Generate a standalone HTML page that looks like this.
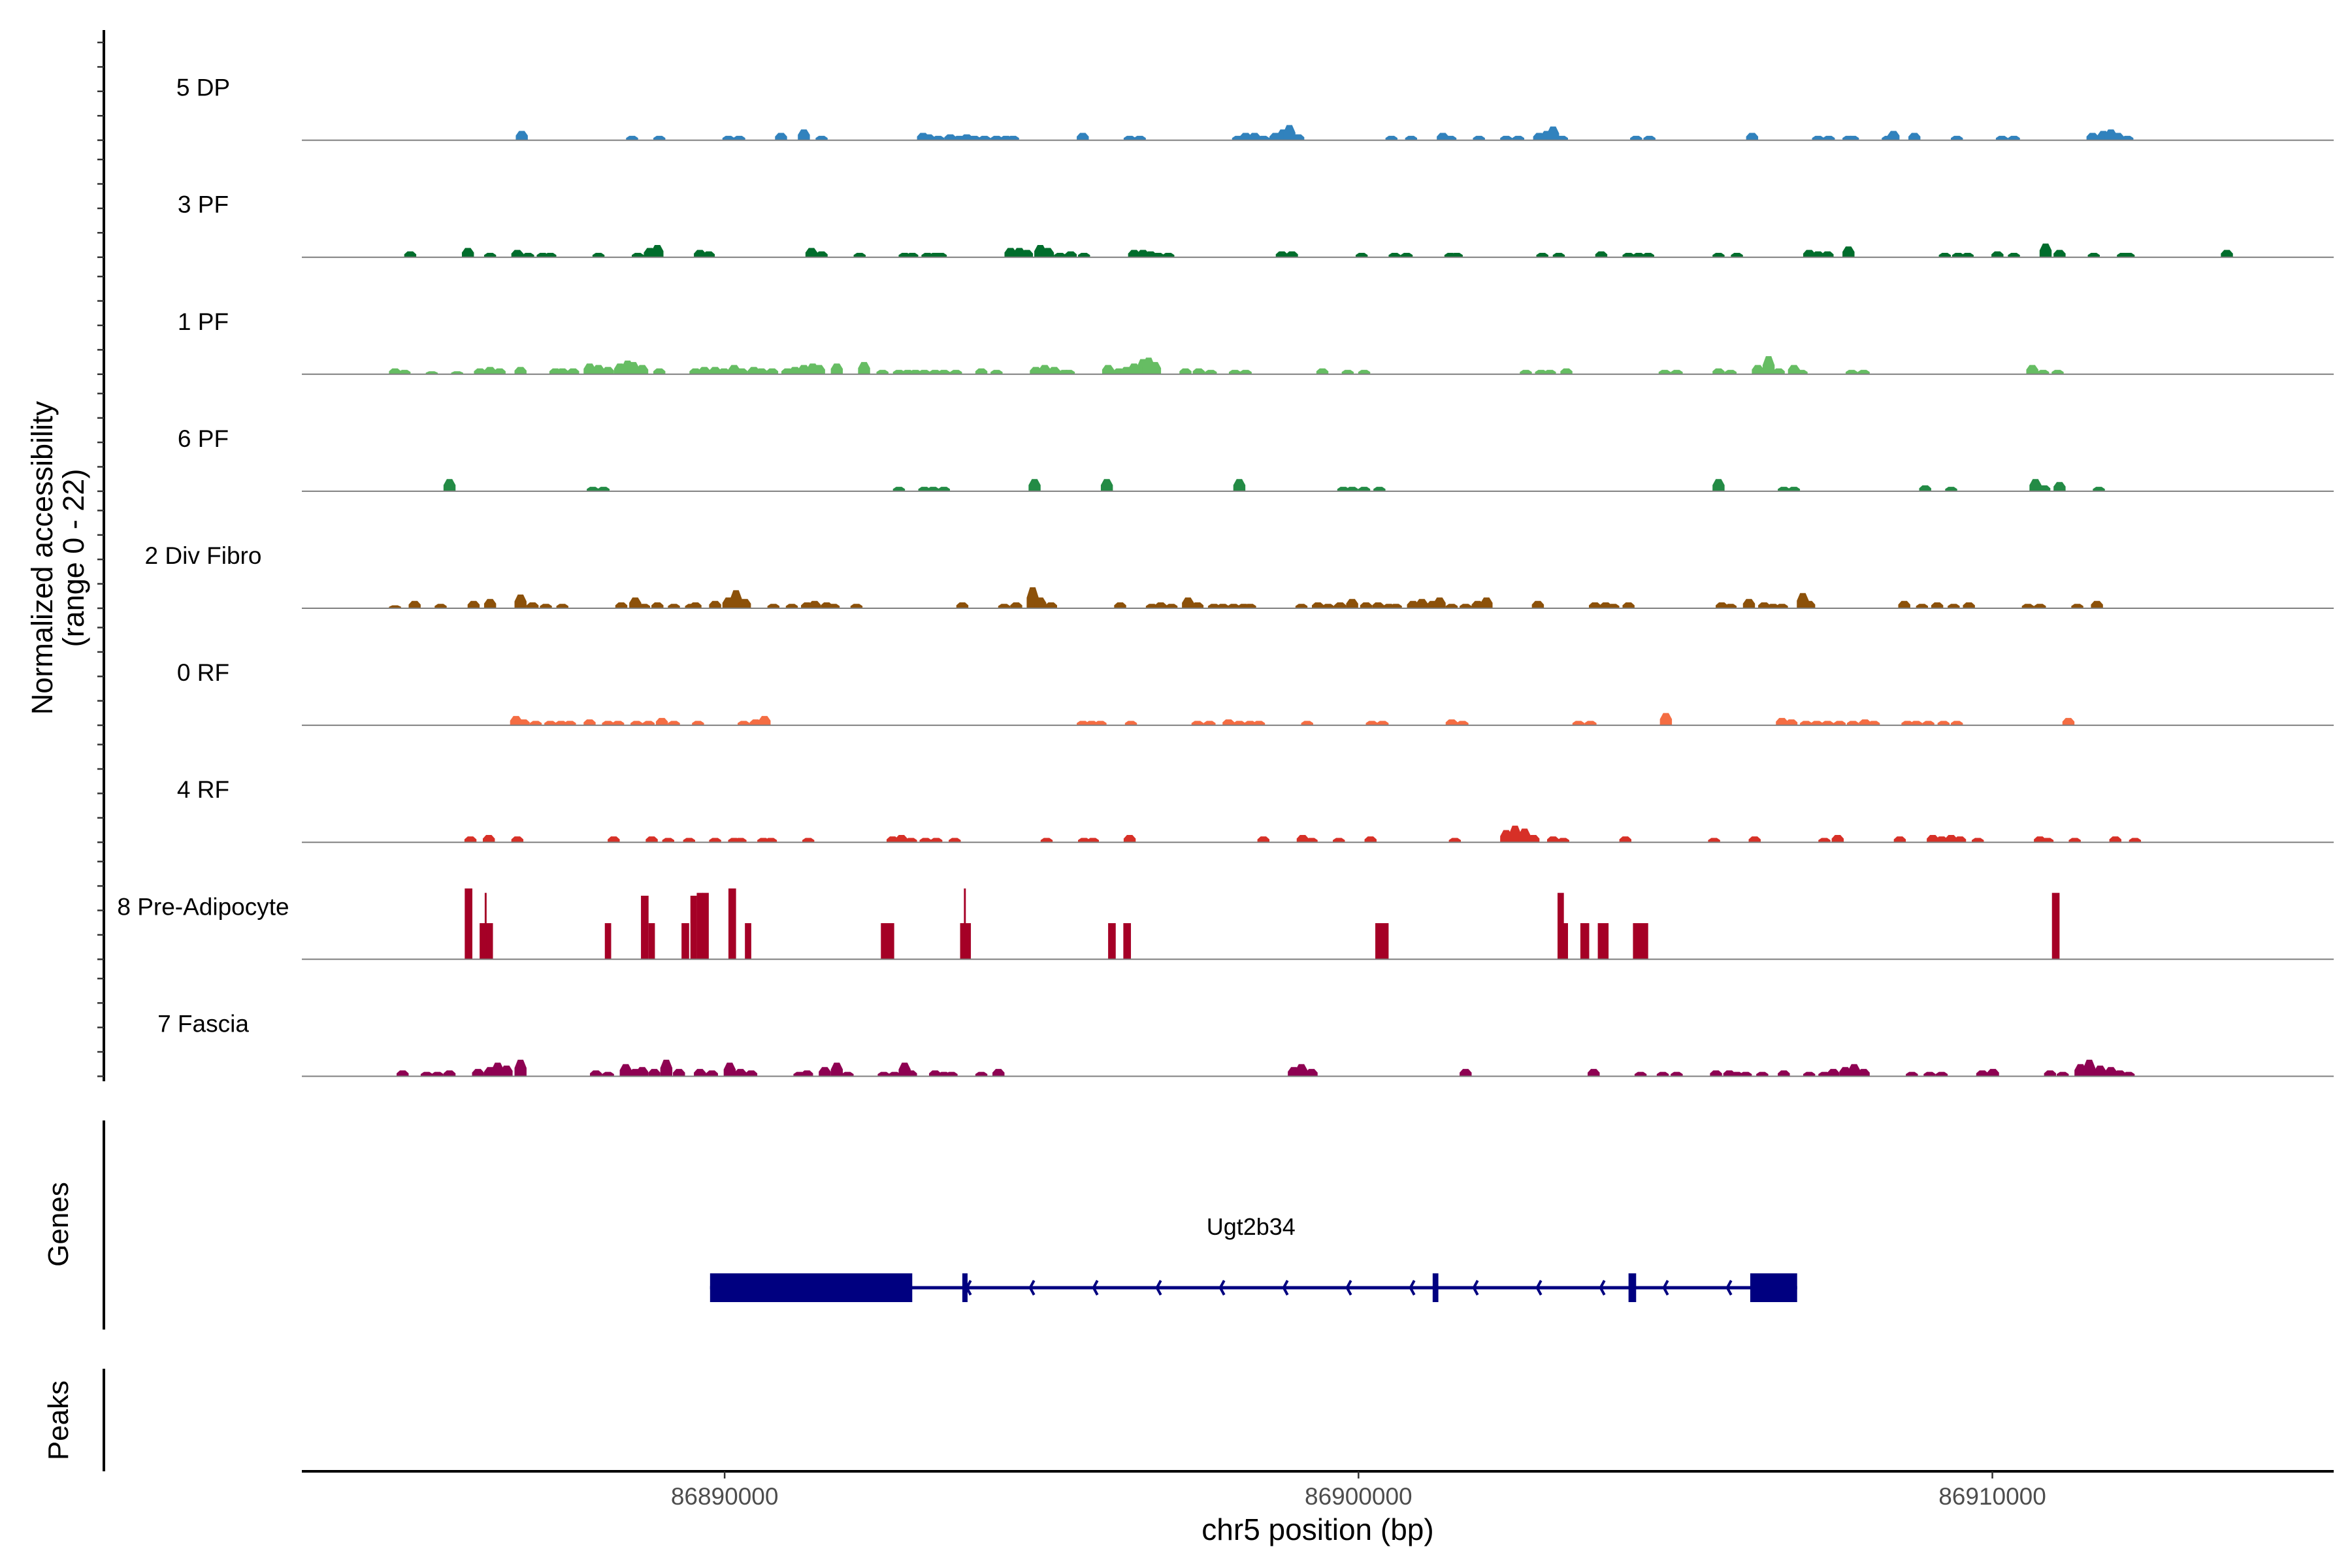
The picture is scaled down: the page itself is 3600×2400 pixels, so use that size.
<!DOCTYPE html>
<html><head><meta charset="utf-8"><style>
html,body{margin:0;padding:0;background:#fff;}
svg{display:block;font-family:"Liberation Sans",sans-serif;}
</style></head><body>
<svg id="chart" width="3600" height="2400" viewBox="0 0 3600 2400"></svg>
<script>
// ---- data (positions in kb from region start 86883330 bp; heights in normalized accessibility) ----
const regionStartBp = 86883330;
const regionEndBp = 86915385;
const trackNames = ["5 DP","3 PF","1 PF","6 PF","2 Div Fibro","0 RF","4 RF","8 Pre-Adipocyte","7 Fascia"];
const trackColors = ["#3182bd","#006d2c","#66bd63","#238b45","#8c510a","#f46d43","#d73027","#a50026","#8e0152"];
const yTickValues = [0,5,10,15,20];
const xTickValues = [86890000,86900000,86910000];

const dpPos=[3.47,5.21,5.64,6.73,6.90,7.56,7.92,8.20,9.80,9.89,10.04,10.23,10.37,10.49,10.61,10.77,10.96,11.11,11.22,12.32,13.06,13.22,14.77,14.89,15.03,15.17,15.36,15.48,15.58,15.72,17.19,17.50,18.00,18.12,18.57,19.00,19.19,19.52,19.64,19.74,19.88,21.05,21.26,22.88,23.92,24.09,24.40,24.47,25.02,25.11,25.44,26.11,26.82,27.01,28.25,28.42,28.54,28.65,28.80];
const dpVal=[1.9,0.9,0.9,0.9,0.9,1.5,2.2,0.9,1.5,1.2,0.9,1.2,0.9,1.2,0.9,0.9,0.9,0.9,0.9,1.5,0.9,0.9,0.9,1.5,1.5,0.9,1.5,2.2,3.1,1.2,0.9,0.9,1.5,0.9,0.9,0.9,0.9,1.5,1.9,2.8,0.9,0.9,0.9,1.5,0.9,0.9,0.9,0.9,0.9,1.9,1.5,0.9,0.9,0.9,1.5,1.9,2.2,1.5,0.9];

const pf3Pos=[1.71,2.62,2.97,3.40,3.57,3.80,3.92,4.68,5.30,5.49,5.61,6.28,6.42,8.04,8.20,8.80,9.51,9.63,9.87,9.99,10.08,11.18,11.32,11.44,11.65,11.77,11.96,12.13,12.34,13.13,13.27,13.39,13.51,13.67,15.46,15.62,16.72,17.24,17.43,18.12,18.22,19.57,19.83,20.50,20.93,21.09,21.24,22.35,22.64,23.78,23.92,24.07,24.40,25.92,26.13,26.28,26.75,27.01,27.51,27.73,28.27,28.73,28.82,30.37];
const pf3Val=[1.2,1.9,0.9,1.5,0.9,0.9,0.9,0.9,0.9,1.9,2.5,1.5,1.2,1.9,1.2,0.9,0.9,0.9,0.9,0.9,0.9,1.9,1.9,1.5,2.5,1.9,0.9,1.2,0.9,1.5,1.5,1.2,0.9,0.9,1.2,1.2,0.9,0.9,0.9,0.9,0.9,0.9,0.9,1.2,0.9,0.9,0.9,0.9,0.9,1.5,1.2,1.2,2.2,0.9,0.9,0.9,1.2,0.9,2.8,1.5,0.9,0.9,0.9,1.5];

const pf1Pos=[1.47,1.62,2.05,2.45,2.81,2.97,3.12,3.45,4.00,4.11,4.28,4.54,4.68,4.83,5.02,5.14,5.23,5.37,5.64,6.21,6.35,6.52,6.66,6.82,6.94,7.13,7.25,7.42,7.66,7.78,7.92,8.06,8.16,8.44,8.87,9.16,9.42,9.56,9.68,9.82,9.99,10.13,10.32,10.72,10.96,11.58,11.72,11.87,12.03,12.10,12.72,12.89,13.01,13.13,13.27,13.36,13.46,13.94,14.15,14.34,14.72,14.89,16.10,16.50,16.76,19.31,19.55,19.69,19.95,21.50,21.69,22.35,22.54,22.97,23.14,23.30,23.54,23.66,24.45,24.64,27.30,27.47,27.70];
const pf1Val=[1.2,0.9,0.6,0.6,1.2,1.5,1.2,1.5,1.2,1.2,1.2,2.2,1.9,1.5,2.2,2.8,2.5,1.9,1.2,1.2,1.5,1.5,1.2,1.9,1.2,1.5,1.2,1.2,1.2,1.5,1.9,2.2,1.9,2.2,2.5,0.9,0.9,0.9,0.9,0.9,0.9,0.9,0.9,1.2,0.9,1.5,1.9,1.5,0.9,0.9,1.9,1.2,1.5,2.2,3.1,3.4,2.5,1.2,1.2,0.9,0.9,0.9,1.2,0.9,0.9,0.9,0.9,0.9,1.2,0.9,0.9,1.2,0.9,1.9,3.7,1.2,1.9,0.9,0.9,0.9,1.9,0.9,0.9];

const pf6Pos=[2.33,4.59,4.76,9.42,9.82,9.96,10.13,11.56,12.70,14.79,16.43,16.57,16.76,17.00,22.35,23.38,23.54,25.61,26.02,27.35,27.49,27.73,28.35];
const pf6Val=[2.5,0.9,0.9,0.9,0.9,0.9,0.9,2.5,2.5,2.5,0.9,0.9,0.9,0.9,2.5,0.9,0.9,1.2,0.9,2.5,1.2,1.9,0.9];

const divPos=[1.47,1.78,2.19,2.71,2.97,3.45,3.64,3.85,4.11,5.04,5.26,5.40,5.61,5.87,6.14,6.21,6.52,6.73,6.85,6.99,7.44,7.73,7.97,8.09,8.28,8.39,8.75,10.42,11.08,11.27,11.53,11.65,11.82,12.91,13.41,13.55,13.72,13.98,14.13,14.39,14.53,14.70,14.86,14.96,15.77,16.03,16.19,16.38,16.57,16.79,16.98,17.15,17.26,17.53,17.67,17.84,17.95,18.14,18.36,18.55,18.69,19.50,20.40,20.57,20.69,20.93,22.40,22.54,22.83,23.07,23.21,23.35,23.68,23.78,25.28,25.56,25.80,26.06,26.30,27.23,27.42,28.01,28.32];
const divVal=[0.6,1.5,0.9,1.5,1.9,2.8,1.2,0.9,0.9,1.2,2.2,0.9,1.2,0.9,0.9,1.2,1.5,2.2,3.7,1.9,0.9,0.9,1.2,1.5,1.2,0.9,0.9,1.2,0.9,1.2,4.3,2.2,1.2,1.2,0.9,1.2,0.9,2.2,1.2,0.9,0.9,0.9,0.9,0.9,0.9,1.2,0.9,1.2,1.9,1.2,1.2,0.9,0.9,1.5,1.9,1.5,2.2,0.9,0.9,1.5,2.2,1.5,1.2,1.2,0.9,1.2,1.2,0.9,1.9,1.2,0.9,0.9,3.1,1.5,1.5,0.9,1.2,0.9,1.2,0.9,0.9,0.9,1.5];

const rf0Pos=[3.38,3.50,3.69,3.92,4.09,4.23,4.54,4.83,4.99,5.28,5.47,5.68,5.87,6.25,6.97,7.16,7.30,12.32,12.46,12.60,13.08,14.13,14.32,14.62,14.79,14.96,15.10,15.86,16.88,17.05,18.14,18.31,20.14,20.33,21.52,23.35,23.50,23.73,23.90,24.07,24.26,24.47,24.66,24.80,25.33,25.47,25.66,25.90,26.11,27.87];
const rf0Val=[1.9,1.2,0.9,0.9,0.9,0.9,1.2,0.9,0.9,0.9,0.9,1.5,0.9,0.9,0.9,1.2,1.9,0.9,0.9,0.9,0.9,0.9,0.9,1.2,0.9,0.9,0.9,0.9,0.9,0.9,1.2,0.9,0.9,0.9,2.5,1.5,1.2,0.9,0.9,0.9,0.9,0.9,1.2,0.9,0.9,0.9,0.9,0.9,0.9,1.5];

const rf4Pos=[2.66,2.95,3.40,4.92,5.52,5.78,6.11,6.52,6.82,6.92,7.28,7.40,7.99,9.32,9.46,9.61,9.84,10.01,10.30,11.75,12.34,12.48,13.06,15.17,15.79,15.93,16.36,16.86,18.19,19.00,19.14,19.29,19.43,19.74,19.90,20.88,22.28,22.92,24.02,24.23,25.21,25.73,25.87,26.02,26.16,26.44,27.42,27.54,27.97,28.61,28.92];
const rf4Val=[1.2,1.5,1.2,1.2,1.2,0.9,0.9,0.9,0.9,0.9,0.9,0.9,0.9,1.2,1.5,0.9,0.9,0.9,0.9,0.9,0.9,0.9,1.5,1.2,1.5,0.9,0.9,1.2,0.9,2.5,3.4,2.8,1.5,1.2,0.9,1.2,0.9,1.2,0.9,1.5,1.2,1.5,1.2,1.5,1.2,0.9,1.2,0.9,0.9,1.2,0.9];

const preAdipoPos=[2.63,2.91,2.90,4.83,5.41,5.52,6.05,6.18,6.28,6.37,6.79,7.04,9.24,10.47,10.46,12.78,13.02,17.04,19.86,19.94,20.24,20.53,21.12,27.67];
const preAdipoVal=[14.5,7.4,13.6,7.4,13.0,7.4,7.4,13.0,13.6,13.6,14.5,7.4,7.4,7.4,14.5,7.4,7.4,7.4,13.6,7.4,7.4,7.4,7.4,13.6];
const preAdipoWidth=[0.12,0.21,0.03,0.10,0.12,0.10,0.12,0.10,0.10,0.10,0.12,0.10,0.21,0.17,0.03,0.12,0.12,0.21,0.10,0.07,0.14,0.17,0.24,0.12];

const fasciaPos=[1.59,1.97,2.14,2.33,2.78,2.97,3.09,3.23,3.45,4.64,4.83,5.11,5.26,5.37,5.56,5.75,5.95,6.28,6.47,6.75,6.92,7.09,7.85,7.97,8.25,8.44,8.61,9.18,9.35,9.51,9.61,9.99,10.13,10.25,10.72,10.99,15.65,15.77,15.93,18.36,20.38,21.12,21.47,21.69,22.31,22.52,22.64,22.78,23.04,23.38,23.78,24.02,24.16,24.35,24.49,24.64,25.40,25.68,25.87,26.51,26.68,27.58,27.78,28.06,28.20,28.37,28.54,28.68,28.82];
const fasciaVal=[1.2,0.9,0.9,1.2,1.5,1.9,2.8,2.2,3.4,1.2,0.9,2.5,1.5,1.9,1.5,3.4,1.5,1.5,1.2,2.8,1.5,1.2,0.9,1.2,1.9,2.8,0.9,0.9,0.9,2.8,1.2,1.2,0.9,0.9,0.9,1.5,1.9,2.5,1.5,1.5,1.5,0.9,0.9,0.9,1.2,1.2,0.9,0.9,0.9,1.2,0.9,0.9,1.5,1.9,2.5,1.5,0.9,0.9,0.9,1.2,1.5,1.2,0.9,2.5,3.4,2.2,1.9,1.2,0.9];

const trackPos=[dpPos,pf3Pos,pf1Pos,pf6Pos,divPos,rf0Pos,rf4Pos,preAdipoPos,fasciaPos];
const trackVal=[dpVal,pf3Val,pf1Val,pf6Val,divVal,rf0Val,rf4Val,preAdipoVal,fasciaVal];

// gene model (kb from region start)
const geneName="Ugt2b34";
const geneStart=6.44, geneEnd=23.59;
const exonStarts=[6.44,10.42,17.84,20.93,22.85];
const exonEnds=[9.63,10.49,17.93,21.05,23.59];

// ---- layout ----
const NS="http://www.w3.org/2000/svg";
const svg=document.getElementById("chart");
const plotL=462, plotR=3572;
const spanKb=(regionEndBp-regionStartBp)/1000;
function xKb(k){return plotL+k*(plotR-plotL)/spanKb;}
function xBp(bp){return xKb((bp-regionStartBp)/1000);}
const base0=214.6, trackStep=179.1, unitPx=7.48;
function yVal(i,v){return base0+i*trackStep-v*unitPx;}
function mk(tag,attrs,parent){const e=document.createElementNS(NS,tag);for(const k in attrs)e.setAttribute(k,attrs[k]);(parent||svg).appendChild(e);return e;}

// left axis for tracks
const ax=mk("line",{x1:159,y1:46,x2:159,y2:1655,stroke:"#000","stroke-width":4});


trackNames.forEach((name,i)=>{
  const g=mk("g",{});
  
  
  yTickValues.forEach(v=>{
    const y=yVal(i,v);
    const t=mk("line",{x1:149,y1:y,x2:159,y2:y,stroke:"#333","stroke-width":2.5},g);
    
    
  });
  const lbl=mk("text",{x:311,y:yVal(i,0)-68,"text-anchor":"middle","font-size":37,fill:"#000"},g);
  lbl.textContent=name;
  
  
  const pos=trackPos[i], val=trackVal[i];
  pos.forEach((p,j)=>{
    const v=val[j];
    const wKb=(i===7)?preAdipoWidth[j]:0.19;
    const xc=xKb(p), hw=(xKb(p+wKb)-xKb(p))/2;
    const y0=yVal(i,0), y1=yVal(i,v);
    const tw=(i===7)?hw:hw*0.45;
    const poly=mk("polygon",{points:`${xc-hw},${y0} ${xc-hw},${y0-(y0-y1)*0.5} ${xc-tw},${y1} ${xc+tw},${y1} ${xc+hw},${y0-(y0-y1)*0.5} ${xc+hw},${y0}`,fill:trackColors[i]},g);
    
    
  });
  const bl=mk("line",{x1:plotL,y1:yVal(i,0),x2:plotR,y2:yVal(i,0),stroke:"#7f7f7f","stroke-width":2},g);
  
  
});

// y title
const yt=mk("text",{"text-anchor":"middle","font-size":45,fill:"#000",transform:"translate(80,854) rotate(-90)"});


const t1=mk("tspan",{x:0,y:0},yt);t1.textContent="Normalized accessibility";
const t2=mk("tspan",{x:0,y:48},yt);t2.textContent="(range 0 - 22)";

// genes panel
const gax=mk("line",{x1:159,y1:1715,x2:159,y2:2035,stroke:"#000","stroke-width":4});


const gt=mk("text",{"text-anchor":"middle","font-size":44,fill:"#000",transform:"translate(104,1874) rotate(-90)"});
gt.textContent="Genes";


const gy=1971;
const gg=mk("g",{});


const gl=mk("line",{x1:xKb(geneStart),y1:gy,x2:xKb(geneEnd),y2:gy,stroke:"#000080","stroke-width":5},gg);


for(let k=0;k<exonStarts.length;k++){
  const r=mk("rect",{x:xKb(exonStarts[k]),y:gy-22,width:Math.max(8,xKb(exonEnds[k])-xKb(exonStarts[k])),height:44,fill:"#000080"},gg);
  
  
}
for(let ax2=xKb(exonEnds[1]); ax2<xKb(exonStarts[4]); ax2+=97){
  const ch=mk("polyline",{points:`${ax2+6},${gy-11} ${ax2},${gy} ${ax2+6},${gy+11}`,fill:"none",stroke:"#000080","stroke-width":4},gg);
  
  
}
const gn=mk("text",{x:xKb((geneStart+geneEnd)/2)-4,y:1890,"text-anchor":"middle","font-size":36,fill:"#000"},gg);
gn.textContent=geneName;



// peaks panel
const pax=mk("line",{x1:159,y1:2095,x2:159,y2:2252,stroke:"#000","stroke-width":4});


const pt=mk("text",{"text-anchor":"middle","font-size":44,fill:"#000",transform:"translate(104,2174) rotate(-90)"});
pt.textContent="Peaks";



// x axis
const xa=mk("line",{x1:plotL,y1:2252,x2:plotR,y2:2252,stroke:"#000","stroke-width":4});


xTickValues.forEach(bp=>{
  const x=xBp(bp);
  const tk=mk("line",{x1:x,y1:2252,x2:x,y2:2263,stroke:"#333","stroke-width":2.5});
  
  
  const tl=mk("text",{x:x,y:2303,"text-anchor":"middle","font-size":37,fill:"#4d4d4d"});
  tl.textContent=String(bp);
  
  
});
const xt=mk("text",{x:(plotL+plotR)/2,y:2357,"text-anchor":"middle","font-size":46,fill:"#000"});
xt.textContent="chr5 position (bp)";


</script>
</body></html>
